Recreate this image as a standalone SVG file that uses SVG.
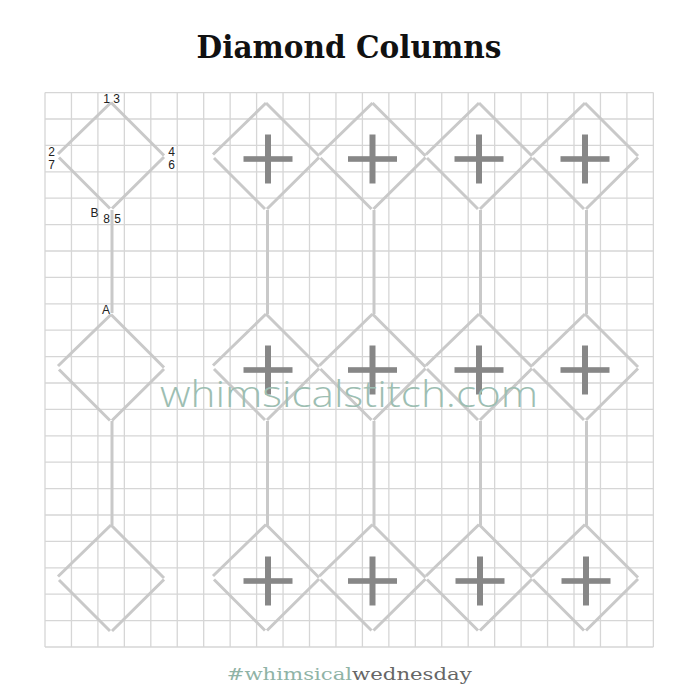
<svg xmlns="http://www.w3.org/2000/svg" xmlns:xlink="http://www.w3.org/1999/xlink" width="700" height="700" viewBox="0 0 700 700">
<style>
.grid{stroke:#d6d6d6;stroke-width:1.3;fill:none}
.st{stroke:#c9c9c9;stroke-width:3;fill:none;stroke-linecap:butt}
.cross{fill:#878787}
.lbl{font-family:"Liberation Sans",Arial,sans-serif;font-size:12px;fill:#222}
.title{font-family:"DejaVu Serif",serif;font-weight:bold;font-size:32px;fill:#111}
.wm{font-family:"Open Sans","Lato",sans-serif;font-weight:300;font-size:36px;fill:#9dbeb2}
.foot{font-family:"DejaVu Serif",serif;font-size:17.5px}
</style>
<defs>
<path id="dia" d="M0,-53 L-53,-1.5 M0,-53 L53,0 M53,1.5 L1,53 M-52,2 L-1,53"/>
<g id="plus"><rect x="-24.5" y="-2.8" width="49" height="5.6"/><rect x="-3" y="-24.5" width="6" height="49"/></g>
</defs>
<rect width="700" height="700" fill="#ffffff"/>
<text class="title" x="349" y="57.7" text-anchor="middle" textLength="305" lengthAdjust="spacingAndGlyphs">Diamond Columns</text>
<path class="grid" d="M45,92.6V647M71.45,92.6V647M97.9,92.6V647M124.35,92.6V647M150.8,92.6V647M177.25,92.6V647M203.7,92.6V647M230.15,92.6V647M256.6,92.6V647M283.05,92.6V647M309.5,92.6V647M335.95,92.6V647M362.4,92.6V647M388.85,92.6V647M415.3,92.6V647M441.75,92.6V647M468.2,92.6V647M494.65,92.6V647M521.1,92.6V647M547.55,92.6V647M574,92.6V647M600.45,92.6V647M626.9,92.6V647M653.35,92.6V647M45,92.6H653.35M45,119H653.35M45,145.4H653.35M45,171.8H653.35M45,198.2H653.35M45,224.6H653.35M45,251H653.35M45,277.4H653.35M45,303.8H653.35M45,330.2H653.35M45,356.6H653.35M45,383H653.35M45,409.4H653.35M45,435.8H653.35M45,462.2H653.35M45,488.6H653.35M45,515H653.35M45,541.4H653.35M45,567.8H653.35M45,594.2H653.35M45,620.6H653.35M45,647H653.35"/>
<g id="connectors" class="st">
<path d="M112,210V313M112,421V525"/>
<path d="M267.5,210V314M267.5,421V525"/>
<path d="M374,210V314M374,421V525"/>
<path d="M480.5,210V314M480.5,421V525"/>
<path d="M586.5,210V314M586.5,421V525"/>
</g>
<g id="left-d1"><use xlink:href="#dia" class="st" x="111" y="155.5"/></g>
<g id="left-d2"><use xlink:href="#dia" class="st" x="111" y="367.5"/></g>
<g id="left-d3"><use xlink:href="#dia" class="st" x="111" y="578"/></g>
<g id="r1c1"><use xlink:href="#dia" class="st" x="266" y="156"/><use xlink:href="#plus" class="cross" x="268" y="159"/></g>
<g id="r1c2"><use xlink:href="#dia" class="st" x="372.5" y="156"/><use xlink:href="#plus" class="cross" x="372.5" y="159"/></g>
<g id="r1c3"><use xlink:href="#dia" class="st" x="479" y="156"/><use xlink:href="#plus" class="cross" x="479" y="159"/></g>
<g id="r1c4"><use xlink:href="#dia" class="st" x="585" y="156"/><use xlink:href="#plus" class="cross" x="585" y="159"/></g>
<g id="r2c1"><use xlink:href="#dia" class="st" x="266" y="367"/><use xlink:href="#plus" class="cross" x="268" y="370"/></g>
<g id="r2c2"><use xlink:href="#dia" class="st" x="372.5" y="367"/><use xlink:href="#plus" class="cross" x="372.5" y="370"/></g>
<g id="r2c3"><use xlink:href="#dia" class="st" x="479" y="367"/><use xlink:href="#plus" class="cross" x="479" y="370"/></g>
<g id="r2c4"><use xlink:href="#dia" class="st" x="585" y="367"/><use xlink:href="#plus" class="cross" x="585" y="370"/></g>
<g id="r3c1"><use xlink:href="#dia" class="st" x="266" y="577.5"/><use xlink:href="#plus" class="cross" x="268" y="581"/></g>
<g id="r3c2"><use xlink:href="#dia" class="st" x="372.5" y="577.5"/><use xlink:href="#plus" class="cross" x="372.5" y="581"/></g>
<g id="r3c3"><use xlink:href="#dia" class="st" x="479" y="577.5"/><use xlink:href="#plus" class="cross" x="480" y="581"/></g>
<g id="r3c4"><use xlink:href="#dia" class="st" x="585" y="577.5"/><use xlink:href="#plus" class="cross" x="586" y="581"/></g>
<g id="labels" class="lbl" text-anchor="middle">
<text x="106.5" y="102.5">1</text>
<text x="116.5" y="102.5">3</text>
<text x="51.7" y="156">2</text>
<text x="51.7" y="168.7">7</text>
<text x="171.5" y="156">4</text>
<text x="171.5" y="168.7">6</text>
<text x="94.5" y="216.7">B</text>
<text x="106.5" y="222.7">8</text>
<text x="117.5" y="222.7">5</text>
<text x="106" y="314.3">A</text>
</g>
<text class="wm" x="160" y="407.3" textLength="378" lengthAdjust="spacingAndGlyphs">whimsicalstitch.com</text>
<text class="foot" x="226.7" y="680" textLength="245" lengthAdjust="spacingAndGlyphs"><tspan fill="#8fb3a6">#whimsical</tspan><tspan fill="#666666">wednesday</tspan></text>
</svg>
